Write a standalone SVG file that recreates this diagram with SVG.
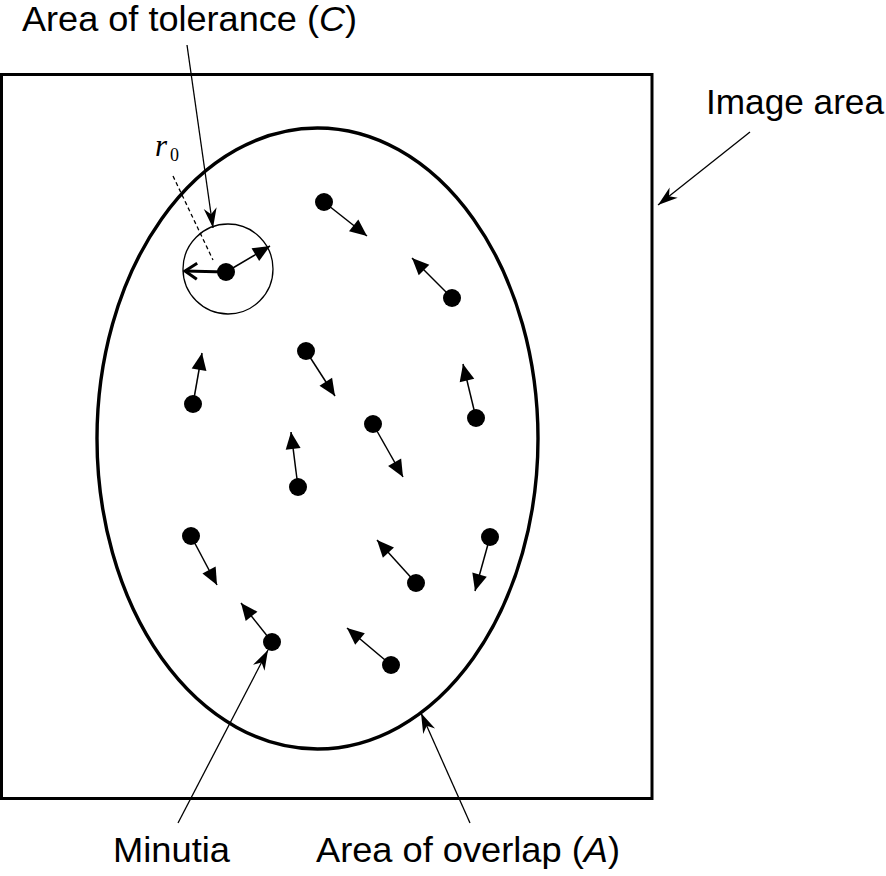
<svg xmlns="http://www.w3.org/2000/svg" width="886" height="876" viewBox="0 0 886 876">
<style>
  .lbl { font-family: "Liberation Sans", Arial, sans-serif; font-size: 35px; fill: #000; }
  .thin { stroke: #000; stroke-width: 1.4; fill: none; }
  .dot { fill: #000; }
  .mv { stroke: #000; stroke-width: 1.5; fill: none; marker-end: url(#tri); }
  .ptr { stroke: #000; stroke-width: 1.3; fill: none; marker-end: url(#ptr); }
</style>
<defs>
  <marker id="tri" markerUnits="userSpaceOnUse" markerWidth="17" markerHeight="15" refX="17" refY="7.5" orient="auto" overflow="visible">
    <path d="M0,0 L17,7.5 L0,15 Z" fill="#000"/>
  </marker>
  <marker id="ptr" markerUnits="userSpaceOnUse" markerWidth="20" markerHeight="13" refX="20" refY="6.5" orient="auto" overflow="visible">
    <path d="M0,0 L20,6.5 L0,13 L6,6.5 Z" fill="#000"/>
  </marker>
  <marker id="open" markerUnits="userSpaceOnUse" markerWidth="14" markerHeight="16" refX="13" refY="8" orient="auto" overflow="visible">
    <path d="M1,0 L13,8 L1,16" fill="none" stroke="#000" stroke-width="3"/>
  </marker>
</defs>

<g id="image-area">
  <rect x="1.5" y="74.5" width="650.5" height="724" fill="none" stroke="#000" stroke-width="3"/>
</g>
<g id="area-of-overlap">
  <ellipse cx="317.5" cy="438.5" rx="220.5" ry="310.5" fill="none" stroke="#000" stroke-width="3.4"/>
</g>
<g id="area-of-tolerance">
  <circle cx="228" cy="269" r="45" fill="none" stroke="#000" stroke-width="1.3"/>
  <line x1="173" y1="176" x2="213" y2="260" stroke="#000" stroke-width="1.3" stroke-dasharray="4,3"/>
  <text x="155" y="156" font-family="'Liberation Serif', 'Times New Roman', serif" font-style="italic" font-size="31">r</text>
  <text x="170" y="161" font-family="'Liberation Serif', 'Times New Roman', serif" font-size="18">0</text>
</g>

<g id="minutiae">
  <g id="m0"><line x1="226" y1="272" x2="185" y2="271" stroke="#000" stroke-width="3" marker-end="url(#open)"/><line class="mv" x1="226" y1="272" x2="270" y2="246"/><circle class="dot" cx="226" cy="272" r="9"/></g>
  <g id="m1"><line class="mv" x1="324" y1="202" x2="367" y2="236"/><circle class="dot" cx="324" cy="202" r="9"/></g>
  <g id="m2"><line class="mv" x1="452" y1="298" x2="412" y2="258"/><circle class="dot" cx="452" cy="298" r="9"/></g>
  <g id="m3"><line class="mv" x1="193" y1="404" x2="202" y2="353"/><circle class="dot" cx="193" cy="404" r="9"/></g>
  <g id="m4"><line class="mv" x1="306" y1="351" x2="335" y2="396"/><circle class="dot" cx="306" cy="351" r="9"/></g>
  <g id="m5"><line class="mv" x1="298" y1="487" x2="291" y2="432"/><circle class="dot" cx="298" cy="487" r="9"/></g>
  <g id="m6"><line class="mv" x1="373" y1="424" x2="403" y2="477"/><circle class="dot" cx="373" cy="424" r="9"/></g>
  <g id="m7"><line class="mv" x1="476" y1="418" x2="463" y2="364"/><circle class="dot" cx="476" cy="418" r="9"/></g>
  <g id="m8"><line class="mv" x1="191" y1="536" x2="217" y2="585"/><circle class="dot" cx="191" cy="536" r="9"/></g>
  <g id="m9"><line class="mv" x1="272" y1="642" x2="241" y2="603"/><circle class="dot" cx="272" cy="642" r="9"/></g>
  <g id="m10"><line class="mv" x1="416" y1="583" x2="377" y2="540"/><circle class="dot" cx="416" cy="583" r="9"/></g>
  <g id="m11"><line class="mv" x1="490" y1="537" x2="475" y2="591"/><circle class="dot" cx="490" cy="537" r="9"/></g>
  <g id="m12"><line class="mv" x1="391" y1="665" x2="347" y2="628"/><circle class="dot" cx="391" cy="665" r="9"/></g>
</g>

<g id="labels">
  <g id="label-tolerance"><text class="lbl" x="22" y="31" textLength="335" lengthAdjust="spacingAndGlyphs">Area of tolerance (<tspan font-style="italic">C</tspan>)</text></g>
  <g id="label-image"><text class="lbl" x="706" y="114" textLength="178" lengthAdjust="spacingAndGlyphs">Image area</text></g>
  <g id="label-minutia"><text class="lbl" x="113" y="862" textLength="117" lengthAdjust="spacingAndGlyphs">Minutia</text></g>
  <g id="label-overlap"><text class="lbl" x="316" y="862" textLength="304" lengthAdjust="spacingAndGlyphs">Area of overlap (<tspan font-style="italic">A</tspan>)</text></g>
</g>

<g id="connectors">
  <line class="ptr" x1="187" y1="45" x2="213" y2="228"/>
  <line class="ptr" x1="750" y1="132" x2="658" y2="205"/>
  <line class="ptr" x1="178" y1="823" x2="268" y2="650"/>
  <line class="ptr" x1="470" y1="823" x2="421" y2="713"/>
</g>
</svg>
